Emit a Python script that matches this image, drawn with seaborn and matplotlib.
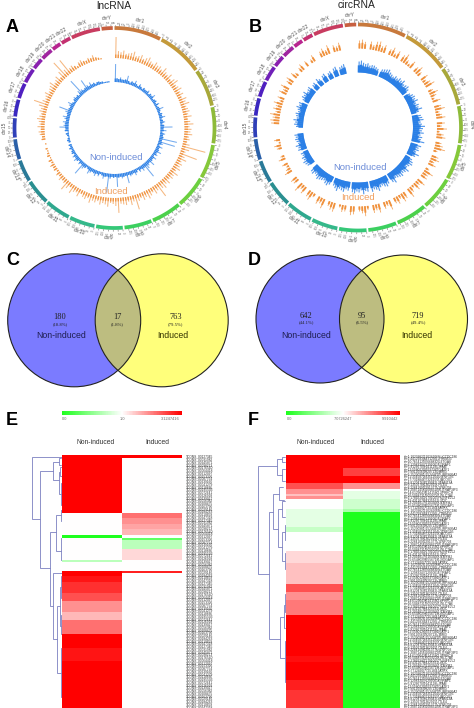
import numpy as np
import pandas as pd
import matplotlib
matplotlib.use("Agg")
import matplotlib.pyplot as plt
import seaborn as sns
from matplotlib.collections import LineCollection
from matplotlib.colors import LinearSegmentedColormap, TwoSlopeNorm
from matplotlib.patches import Circle

sns.set_theme(style="white")
plt.rcParams["font.family"] = ["Liberation Sans", "DejaVu Sans"]

# chromosomes, Mb
chrom_names = ["chr1", "chr2", "chr3", "chr4", "chr5", "chr6", "chr7", "chr8", "chr9", "chr10", "chr11", "chr12",
               "chr13", "chr14", "chr15", "chr16", "chr17", "chr18", "chr19", "chr20", "chr21", "chr22", "chrX", "chrY"]
chrom_len = [249, 243, 198, 191, 181, 171, 159, 146, 141, 135, 135, 133, 115, 107, 102, 90, 81, 78, 59, 63, 48, 51, 155, 59]

# spike heights per 2 degree bin, read clockwise from the top
lnc_blue = [18, 4, 3, 5, 3, 3, 4, 8, 3, 2, 4, 3, 6, 3, 2, 5, 3, 2, 4, 3,
            3, 5, 2, 4, 3, 6, 2, 3, 4, 2, 5, 2, 3, 7, 3, 2, 4, 3, 6, 2,
            3, 5, 2, 4, 12, 3, 6, 2, 5, 3, 4, 18, 3, 17, 5, 2, 6, 3, 4, 7,
            3, 5, 2, 6, 3, 4, 8, 3, 5, 7, 16, 4, 6, 3, 5, 2, 4, 6, 3, 4,
            5, 3, 11, 3, 4, 5, 3, 4, 13, 3, 4, 3, 5, 19, 3, 4, 6, 3, 2, 5,
            3, 6, 4, 3, 5, 7, 3, 2, 4, 6, 14, 3, 5, 2, 4, 6, 3, 5, 2, 4,
            3, 2, 4, 2, 3, 0, 2, 3, 2, 1, 2, 3, 1, 4, 3, 9, 5, 4, 6, 3,
            5, 7, 3, 4, 6, 13, 4, 3, 5, 7, 3, 2, 4, 5, 3, 4, 2, 6, 18, 5,
            3, 4, 12, 5, 3, 6, 3, 4, 2, 3, 3, 2, 2, 1, 1, 1, 1, 0, 0, 0]
lnc_orange = [21, 7, 6, 8, 5, 6, 7, 9, 5, 6, 8, 5, 7, 9, 6, 5, 8, 6, 7, 5,
              9, 6, 5, 8, 4, 7, 9, 5, 6, 8, 5, 7, 4, 8, 6, 9, 5, 6, 7, 5,
              8, 4, 6, 9, 5, 7, 6, 8, 5, 6, 4, 7, 24, 8, 5, 18, 6, 9, 5, 7,
              6, 8, 5, 9, 6, 7, 5, 8, 6, 9, 7, 15, 6, 8, 5, 7, 9, 6, 8, 5,
              7, 15, 6, 9, 5, 8, 7, 6, 15, 8, 6, 5, 9, 7, 6, 8, 5, 7, 6, 9,
              5, 7, 6, 4, 8, 5, 6, 9, 4, 7, 11, 5, 4, 6, 3, 5, 2, 4, 3, 5,
              2, 4, 1, 3, 2, 1, 2, 0, 1, 0, 4, 3, 5, 6, 4, 7, 5, 6, 8, 6,
              5, 7, 6, 9, 15, 7, 5, 6, 8, 5, 6, 7, 9, 5, 6, 8, 4, 9, 19, 7,
              17, 5, 6, 4, 2, 5, 6, 4, 3, 5, 4, 6, 3, 2, 1, 0, 0, 0, 0, 0]
circ_blue = [11, 12, 10, 9, 10, 8, 9, 9, 8, 7, 0, 8, 9, 10, 11, 9, 8, 7, 9, 8,
             10, 9, 11, 8, 9, 10, 8, 0, 7, 9, 10, 9, 11, 8, 10, 9, 12, 8, 0, 9,
             10, 11, 8, 9, 12, 10, 9, 11, 8, 10, 9, 13, 0, 11, 9, 10, 8, 12, 9, 0,
             8, 10, 11, 9, 8, 12, 10, 9, 11, 10, 9, 8, 12, 10, 0, 9, 11, 10, 8, 9,
             12, 10, 9, 11, 0, 10, 9, 12, 8, 10, 9, 11, 10, 0, 9, 8, 11, 10, 9, 12,
             10, 8, 0, 9, 11, 10, 8, 9, 10, 11, 9, 8, 10, 9, 0, 0, 8, 9, 10, 8,
             9, 7, 8, 0, 9, 8, 10, 7, 8, 9, 8, 9, 0, 0, 0, 7, 9, 8, 10, 7,
             8, 9, 7, 8, 10, 8, 9, 0, 7, 9, 8, 10, 7, 8, 9, 0, 7, 8, 0, 9,
             7, 0, 8, 9, 0, 7, 8, 0, 9, 10, 0, 8, 9, 10, 0, 0, 0, 0, 0, 0]
circ_orange = [8, 9, 7, 0, 8, 5, 9, 10, 6, 8, 0, 6, 9, 4, 8, 0, 7, 10, 5, 3,
               8, 0, 6, 9, 5, 0, 8, 4, 7, 10, 0, 5, 9, 6, 3, 8, 0, 7, 10, 4,
               6, 9, 0, 8, 5, 10, 3, 7, 9, 0, 6, 8, 11, 4, 0, 7, 9, 5, 8, 0,
               4, 10, 6, 7, 0, 9, 5, 8, 3, 6, 10, 0, 7, 9, 4, 8, 6, 0, 10, 5,
               7, 0, 9, 6, 8, 0, 4, 10, 7, 5, 0, 8, 9, 0, 6, 7, 3, 0, 9, 8,
               5, 0, 10, 6, 8, 0, 4, 9, 7, 0, 8, 5, 10, 0, 6, 7, 0, 0, 8, 5,
               3, 6, 0, 7, 4, 0, 0, 5, 7, 2, 6, 0, 0, 0, 0, 0, 8, 9, 7, 10,
               5, 8, 6, 9, 4, 7, 0, 8, 5, 9, 0, 6, 8, 0, 7, 4, 0, 5, 7, 0,
               6, 0, 4, 7, 0, 0, 6, 8, 5, 9, 0, 7, 5, 8, 0, 0, 0, 0, 0, 0]

# venn counts
venn_c = ["180", "17", "763"]
venn_c_pct = ["(18.8%)", "(1.8%)", "(79.5%)"]
venn_d = ["642", "95", "719"]
venn_d_pct = ["(44.1%)", "(6.5%)", "(49.4%)"]

# heatmap E, run lengths of rows
e_non_vals = [3.12, 1.0, 0.0, 1.0, 0.7, 1.0, 3.12, 2.95, 2.72, 2.45, 1.92, 1.59, 2.19, 3.12, 2.95, 3.12]
e_non_rows = [21, 8, 1, 8, 1, 3, 2, 2, 4, 3, 4, 3, 5, 5, 5, 17]
e_ind_vals = [3.12, 1.0, 2.19, 1.92, 1.75, 1.6, 1.0, 0.3, 0.7, 1.32, 1.0, 2.85, 1.0]
e_ind_rows = [1, 20, 2, 2, 2, 2, 1, 1, 3, 4, 4, 1, 49]
e_ticks = [0.0, 1.0, 3.1247416]
e_ids = ["00127345", "00031982", "00245871", "00098213", "00176540", "00064418", "00212097", "00153326",
         "00087754", "00239160", "00041279", "00118836", "00195503", "00072641", "00226918", "00139027",
         "00056382", "00208475", "00163790", "00029146", "00184263", "00110659", "00247318"]

# heatmap F
f_non_vals = [9.91, 9.02, 8.31, 7.78, 8.31, 7.07, 6.22, 5.3, 7.07, 7.5, 7.78, 9.02, 8.31, 8.58, 9.91, 9.74, 9.91, 9.56, 9.32]
f_non_rows = [11, 2, 2, 1, 1, 4, 7, 2, 7, 5, 8, 3, 3, 6, 16, 2, 7, 4, 7]
f_ind_vals = [9.91, 9.2, 9.91, 8.31, 7.07, 6.22, 5.5, 4.4, 0.0]
f_ind_rows = [5, 3, 3, 2, 1, 3, 4, 1, 76]
f_ticks = [0.0, 7.0726247, 9.910442]
f_ids = ["chr1:10239820|10242068|-|CCDC186", "chr2:4412983|4431205|+|TRIM33", "chr10:7654120|7668832|+|ITGA8",
         "chr3:12983347|12990016|-|RAF1", "chr5:9126670|9141128|+|PAM", "chr12:5580124|5597341|-|ATF1",
         "chr7:9912056|9920713|+|BRI3", "chr6:15230981|15244670|-|RPS6KA2", "chr11:3345872|3351204|+|ZNF195",
         "chr17:7318846|7326155|-|ACOX1", "chr4:8120476|8139042|+|FAM13A", "chr9:1350278|1362915|-|TLE4",
         "chr8:2284109|2291377|+|ZNF703", "chr1:20871456|20883120|-|TRAF3IP3", "chr14:6129043|6141580|+|PRKCH",
         "chr16:5048731|5059206|-|SLC7A6", "chr2:17892340|17910657|+|NFE2L2", "chr19:4312078|4325561|+|CIC",
         "chr13:2094817|2103366|-|ZMYM2", "chr15:6548029|6556718|+|IQGAP1", "chrX:7712460|7725183|-|ATRX"]

# dendrogram links: merge height, top row, top child height, bottom row, bottom child height
e_links = [(30, 0.6, 0, 23.4, 21.7), (21.7, 5.7, 9, 41.2, 12.3), (9, 2.4, 3.3, 9, 3.3), (3.3, 1.2, 1, 3.6, 1.2),
           (3.3, 6, 1.6, 14, 1.4), (1.6, 4.5, 0, 7.5, 0), (1.4, 10, 0, 18, 0), (12.3, 27.9, 5.7, 55, 9),
           (5.7, 21.8, 1, 35, 1), (1, 20, 0, 24, 0), (1, 30, 0, 38, 0), (9, 42.8, 0, 67, 5), (5, 55, 2, 79.4, 1.5),
           (2, 48, 1, 62, 1), (1, 44, 0, 52, 0), (1, 58, 0, 65, 0), (1.5, 70, 0, 88, 0)]
f_links = [(28.7, 4.3, 9.3, 46.2, 17), (9.3, 1.7, 4.3, 7.7, 4.3), (4.3, 0.8, 1.5, 2.8, 1), (4.3, 5.5, 1.5, 10, 1),
           (17, 21.9, 13.7, 71.2, 6.7), (13.7, 15.2, 7.7, 28.8, 8.7), (7.7, 12.5, 3, 17.4, 2),
           (8.7, 21, 4.3, 35.5, 4.3), (4.3, 18, 1, 24, 1), (4.3, 30, 1.5, 41, 1.5), (1.5, 27, 0, 33, 0),
           (1.5, 38, 0, 44, 0), (6.7, 62.6, 2.7, 78.7, 1.7), (2.7, 58, 1, 67, 1), (1.7, 72, 0, 88, 0), (1, 54, 0, 61, 0)]

W, H = 474, 708
heat_cmap = LinearSegmentedColormap.from_list("gwr", ["#1EFF1E", "#FFFFFF", "#FF0000"])
ring_colors = ["#C8793C", "#C49A3A", "#A8A83A", "#8EBB3A", "#85C83A", "#6CD03F", "#4CD14C", "#3CD060",
               "#35C878", "#35B88A", "#2FA88E", "#2A8F90", "#2A7A98", "#2A60A8", "#3040B8", "#3A28C0",
               "#5020C0", "#7020B8", "#8A20B0", "#A025A0", "#B82590", "#C43070", "#C83C60", "#C86040"]
BLUE = "#2A7FE6"
ORANGE = "#F0913C"


def px_axes(fig, x0, y0, x1, y1, **kw):
    return fig.add_axes([x0 / W, 1 - y1 / H, (x1 - x0) / W, (y1 - y0) / H], **kw)


def xy(deg, r):
    a = np.deg2rad(deg)
    return r * np.sin(a), r * np.cos(a)


def spikes(ax, deg, r0, r1, col, lw, alpha):
    x0, y0 = xy(deg, r0)
    x1, y1 = xy(deg, r1)
    segs = np.stack([np.column_stack([x0, y0]), np.column_stack([x1, y1])], axis=1)
    ax.add_collection(LineCollection(segs, colors=col, linewidths=lw, alpha=alpha, capstyle="butt"))


def draw_circos(fig, cx, cy, R, r_out, r_in, out_vals, in_vals, solid):
    rmax = 125
    ax = px_axes(fig, cx - rmax, cy - rmax, cx + rmax, cy + rmax)
    ax.set_xlim(-rmax, rmax)
    ax.set_ylim(-rmax, rmax)
    ax.set_axis_off()
    ax.patch.set_alpha(0)

    scale = (360 - len(chrom_len)) / sum(chrom_len)
    start = 0.0
    for name, length, col in zip(chrom_names, chrom_len, ring_colors):
        span = length * scale
        ax.plot(*xy(np.linspace(start, start + span, 40), R), color=col, lw=2.7, solid_capstyle="butt")
        for mb in range(0, length, 25):
            a = start + mb * scale
            tx, ty = xy(np.array([a, a]), np.array([R + 2, R + 3.4]))
            ax.plot(tx, ty, color="#888888", lw=0.5)
            rot = 90 - a if a <= 180 else 270 - a
            ax.text(*xy(a, R + 5.4), str(mb), fontsize=2.1, color="#777777", rotation=rot,
                    rotation_mode="anchor", ha="center", va="center", clip_on=False)
        mid = start + span / 2
        rot = -mid if (mid <= 90 or mid >= 270) else 180 - mid
        ax.text(*xy(mid, R + 10), name, fontsize=3.5, color="#555555", rotation=rot,
                rotation_mode="anchor", ha="center", va="center", clip_on=False)
        start += span + 1

    deg = np.arange(180) * 2 + 1.0
    for vals, base, col in [(out_vals, r_out, ORANGE), (in_vals, r_in, BLUE)]:
        vals = np.array(vals, dtype=float)
        keep = vals > 0
        if solid:
            lw = 1.85 if col == BLUE else 1.35
            spikes(ax, deg[keep], base, base + vals[keep], col, lw * 0.45, 0.8)
            spikes(ax, deg[keep], base, base + 0.65 * vals[keep], col, lw, 1.0)
        else:
            spikes(ax, deg[keep], base, base + vals[keep], col, 0.75, 0.65)
            spikes(ax, deg[keep], base, base + np.minimum(vals[keep], 3.5), col, 1.0, 0.9)


def draw_heat(fig, x0, x1, x2, y0, non_vals, non_rows, ind_vals, ind_rows, labels, vmid, vmax, pad):
    df = pd.DataFrame({"Non-induced": np.repeat(non_vals, non_rows), "Induced": np.repeat(ind_vals, ind_rows)})
    ax = px_axes(fig, x0, y0, x2, H)
    norm = TwoSlopeNorm(vmin=0, vcenter=vmid, vmax=vmax)
    sns.heatmap(df, cmap=heat_cmap, norm=norm, cbar=False, xticklabels=False, yticklabels=labels, ax=ax)
    ax.yaxis.tick_right()
    ax.tick_params(axis="y", length=0, pad=pad, labelsize=2.3, labelcolor="#333333")
    plt.setp(ax.get_yticklabels(), rotation=0, ha="left")
    return ax, len(df)


def draw_bar(fig, x0, x1):
    ax = px_axes(fig, x0, 411, x1, 415)
    ramp = pd.DataFrame([np.linspace(0, 1, 200)])
    sns.heatmap(ramp, cmap=heat_cmap, vmin=0, vmax=1, cbar=False, xticklabels=False, yticklabels=False, ax=ax)


def draw_tree(fig, x0, x1, y0, links, nrows):
    ax = px_axes(fig, x0, y0, x1, H)
    ax.set_xlim(x1 - x0, 0)
    ax.set_ylim(nrows, 0)
    ax.set_axis_off()
    ax.patch.set_alpha(0)
    for h, y1, h1, y2, h2 in links:
        ax.plot([h1, h, h, h2], [y1, y1, y2, y2], color="#7B80C0", lw=0.6, solid_joinstyle="miter")


def draw_venn(ov, cx1, cx2, cy, r):
    blue = Circle((cx1, cy), r, fc="#7B7BFF", ec="none")
    yellow = Circle((cx2, cy), r, fc="#FFFF7B", ec="none")
    ov.add_patch(blue)
    ov.add_patch(yellow)
    mid = Circle((cx2, cy), r, fc="#BDBD80", ec="none")
    ov.add_patch(mid)
    mid.set_clip_path(Circle((cx1, cy), r, transform=ov.transData))
    for c in (cx1, cx2):
        ov.add_patch(Circle((c, cy), r, fc="none", ec="#222222", lw=0.8))


fig = plt.figure(figsize=(W / 100, H / 100), dpi=100, facecolor="white")

draw_circos(fig, 114.5, 128, 100, 70, 46, lnc_orange, lnc_blue, False)
draw_circos(fig, 358, 127.5, 103, 79, 55, circ_orange, circ_blue, True)

e_labels = [f"TCONS_{e_ids[i % len(e_ids)]}" for i in range(92)]
f_labels = [f_ids[i % len(f_ids)] for i in range(98)]
_, n_e = draw_heat(fig, 62, 122, 182, 455, e_non_vals, e_non_rows, e_ind_vals, e_ind_rows, e_labels, e_ticks[1], e_ticks[2], 3)
_, n_f = draw_heat(fig, 286.3, 343, 400, 455, f_non_vals, f_non_rows, f_ind_vals, f_ind_rows, f_labels, f_ticks[1], f_ticks[2], 3)
draw_tree(fig, 28, 62, 455, e_links, n_e)
draw_tree(fig, 252, 286.3, 455, f_links, n_f)
draw_bar(fig, 62, 182)
draw_bar(fig, 286.3, 400)

# overlay in pixel coordinates for venns and free text
ov = fig.add_axes([0, 0, 1, 1])
ov.set_xlim(0, W)
ov.set_ylim(H, 0)
ov.set_axis_off()
ov.patch.set_alpha(0)

draw_venn(ov, 74.2, 161.7, 320.3, 66.5)
draw_venn(ov, 320, 403.5, 319, 64)


def label(x, y, s, size, color="#222222", **kw):
    ov.text(x, y, s, fontsize=size, color=color, ha="center", va="center", **kw)


serif = ["Liberation Serif", "DejaVu Serif"]
for x, n, p in zip([60, 117.5, 175.5], venn_c, venn_c_pct):
    label(x, 317, n, 6, family=serif)
    label(x, 324, p, 3.4, family=serif)
for x, n, p in zip([306, 362, 418], venn_d, venn_d_pct):
    label(x, 316, n, 6, family=serif)
    label(x, 322, p, 3.4, family=serif)
for x, s in [(61.5, "Non-induced"), (173, "Induced"), (306, "Non-induced"), (417, "Induced")]:
    label(x, 335, s, 6.3, color="#1E1E50" if s == "Non-induced" else "#333300")

label(113.5, 6, "lncRNA", 7.4)
label(357, 5, "circRNA", 7.4)
label(116, 158, "Non-induced", 6.8, color="#6C8CD8")
label(111, 192, "Induced", 6.8, color="#F0A060")
label(360, 167, "Non-induced", 6.8, color="#6C8CD8")
label(358, 198, "Induced", 6.8, color="#F0A060")

for (x, y), s in zip([(96, 442.7), (157, 442.7), (316, 443), (372.7, 443)], ["Non-induced", "Induced"] * 2):
    label(x, y, s, 4.9, color="#333333")

for x, v in zip([65, 122, 170], e_ticks):
    label(x, 418.5, f"{v:.1f}" if v < 3 else str(v), 2.8, color="#666666")
for x, v in zip([290, 343, 390], f_ticks):
    label(x, 418.5, f"{v:.1f}" if v == 0 else str(v), 2.8, color="#666666")

for (x, y), s in zip([(6, 32), (249, 32), (6, 265), (248, 265), (6, 425), (248, 425)], "ABCDEF"):
    ov.text(x, y, s, fontsize=13, fontweight="bold", color="black", ha="left", va="baseline")

fig.savefig("out.png", dpi=100)
